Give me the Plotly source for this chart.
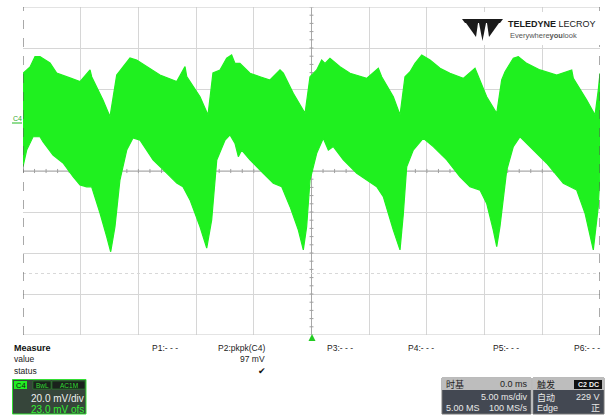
import plotly.graph_objects as go

W, H = 608, 416

# ---------------- data ----------------
# Upper envelope of the C4 trace: time (ms) / voltage (mV, relative to screen centre)
upper_t = [-25.0, -24.39, -23.96, -23.53, -22.66, -22.08, -20.93, -20.06, -19.19, -19.05,
           -18.07, -17.46, -16.88, -16.33, -15.73, -15.15, -14.28, -13.13, -11.68, -10.96,
           -10.81, -9.66, -8.97, -8.54, -7.93, -7.35, -6.92, -6.63, -6.20, -5.33,
           -4.46, -3.60, -2.73, -2.44, -1.58, -0.56, -0.13, 0.45, 0.88, 1.17,
           1.60, 2.47, 3.34, 4.78, 5.79, 6.08, 7.09, 7.67, 8.10, 8.54,
           8.97, 9.55, 10.27, 11.14, 12.00, 13.15, 14.17, 14.45, 15.18, 16.05,
           16.48, 16.77, 17.49, 17.92, 18.65, 19.80, 21.25, 22.55, 22.69, 23.85,
           24.57, 24.85, 25.0]
upper_v = [47.7, 50.7, 55.8, 55.8, 52.7, 47.8, 45.4, 43.6, 49.3, 46.0,
           34.6, 26.5, 46.8, 50.9, 55.1, 54.1, 50.9, 46.8, 43.6, 50.9,
           46.0, 36.2, 27.3, 47.8, 49.3, 55.0, 56.6, 52.5, 52.5, 47.7,
           46.0, 44.4, 49.3, 47.7, 37.9, 28.1, 46.0, 49.3, 54.1, 52.5,
           55.0, 50.9, 47.7, 45.2, 50.1, 46.0, 36.2, 27.3, 46.0, 48.4,
           52.5, 56.6, 54.1, 50.1, 47.7, 45.2, 50.1, 46.0, 36.2, 28.1,
           44.4, 48.4, 55.0, 55.8, 52.5, 49.3, 46.8, 49.3, 45.2, 34.6,
           27.3, 39.5, 47.7]

# Lower envelope of the C4 trace
lower_t = [-25.0, -24.68, -24.13, -23.53, -23.27, -22.40, -21.53, -20.66, -20.06, -19.48,
           -19.05, -18.33, -17.75, -17.40, -17.03, -16.60, -16.01, -15.47, -14.86, -13.73,
           -12.55, -11.68, -11.14, -10.53, -9.66, -9.08, -8.65, -8.21, -7.49, -7.06,
           -6.63, -6.34, -6.05, -5.33, -4.18, -3.31, -2.58, -1.86, -1.14, -0.71,
           -0.42, -0.13, 0.45, 1.02, 1.46, 1.89, 2.76, 3.92, 4.78, 5.65,
           6.22, 7.09, 7.67, 7.95, 8.25, 8.82, 9.69, 10.55, 11.72, 12.87,
           13.73, 14.60, 15.18, 15.75, 16.05, 16.33, 16.92, 17.49, 18.07, 19.22,
           20.38, 21.82, 22.98, 23.70, 24.42, 24.85, 25.0]
lower_v = [2.1, 10.2, 16.7, 16.7, 14.3, 7.8, 3.9, -2.8, -6.8, -7.7,
           -7.7, -20.5, -32.0, -39.4, -27.2, -4.4, 10.2, 16.1, 15.1, 5.4,
           -1.0, -5.9, -7.7, -14.1, -27.2, -37.6, -23.9, 5.4, 15.1, 17.6,
           13.5, 7.0, 10.2, 5.4, -1.1, -6.0, -7.7, -17.4, -28.8, -38.5,
           -27.2, -4.4, 8.6, 16.0, 10.2, 11.9, 5.4, -1.1, -4.4, -7.7,
           -12.5, -28.8, -38.5, -21.5, 2.1, 10.2, 16.0, 11.9, 5.4, -2.8,
           -7.7, -9.3, -15.8, -28.8, -36.9, -27.2, 0.5, 11.9, 16.7, 10.2,
           3.8, -6.0, -9.3, -20.6, -38.5, -17.4, -1.1]

# Scope settings
time_per_div = 5.0     # ms/div
volt_per_div = 20.0    # mV/div
n_hdiv = 10
n_vdiv = 8

measure_names = ["P1:- - -", "P2:pkpk(C4)", "P3:- - -", "P4:- - -", "P5:- - -", "P6:- - -"]
measure_value = "97 mV"
ch_scale = "20.0 mV/div"
ch_offset = "23.0 mV ofs"
tb_labels = ["时基", "0.0 ms", "5.00 ms/div", "5.00 MS", "100 MS/s"]
trig_labels = ["触发", "C2 DC", "自动", "229 V", "Edge", "正"]

# ---------------- layout geometry (pixels) ----------------
PL, PR, PT, PB = 23, 600, 7, 335
xr = n_hdiv * time_per_div / 2
yr = n_vdiv * volt_per_div / 2


def xp(p):
    return p / W


def yp(p):
    return 1 - p / H


GREEN = "#1ff01f"
FONT = "Liberation Sans, Arial, Noto Sans CJK SC"

fig = go.Figure()
fig.add_trace(go.Scatter(
    x=upper_t + lower_t[::-1], y=upper_v + lower_v[::-1],
    mode="lines", fill="toself", fillcolor=GREEN,
    line=dict(color=GREEN, width=1.2), hoverinfo="skip", showlegend=False))

shapes = []
# centre cross lines
shapes.append(dict(type="line", xref="x", yref="y", x0=-xr, x1=xr, y0=0, y1=0,
                   line=dict(color="#a8a8a8", width=1), layer="between"))
shapes.append(dict(type="line", xref="x", yref="y", x0=0, x1=0, y0=-yr, y1=yr,
                   line=dict(color="#a8a8a8", width=1), layer="between"))
# minor ticks on centre lines
k = -xr
while k <= xr + 1e-9:
    shapes.append(dict(type="line", xref="x", yref="y", x0=k, x1=k, y0=-1.0, y1=1.0,
                       line=dict(color="#a0a0a0", width=1), layer="between"))
    k += time_per_div / 5
k = -yr
while k <= yr + 1e-9:
    shapes.append(dict(type="line", xref="x", yref="y", x0=-0.17, x1=0.17, y0=k, y1=k,
                       line=dict(color="#a0a0a0", width=1), layer="between"))
    k += volt_per_div / 5
# dotted level line
shapes.append(dict(type="line", xref="x", yref="y", x0=-xr, x1=xr, y0=-50, y1=-50,
                   line=dict(color="#d8d8d8", width=1, dash="dot"), layer="between"))
# borders
shapes.append(dict(type="line", xref="x", yref="y", x0=-xr, x1=xr, y0=yr, y1=yr,
                   line=dict(color="#c8c8c8", width=1)))
shapes.append(dict(type="line", xref="x", yref="y", x0=-xr, x1=xr, y0=-yr, y1=-yr,
                   line=dict(color="#c8c8c8", width=1)))
for xx in (-xr, xr):
    shapes.append(dict(type="line", xref="x", yref="y", x0=xx, x1=xx, y0=-yr, y1=yr,
                       line=dict(color="#555555", width=1, dash="dash")))

# logo area
shapes.append(dict(type="rect", xref="paper", yref="paper", x0=xp(455), x1=xp(600),
                   y0=yp(45), y1=yp(12), fillcolor="white", line=dict(width=0)))


def path(pts):
    s = "M " + " L ".join(f"{xp(a):.5f},{yp(b):.5f}" for a, b in pts) + " Z"
    return dict(type="path", xref="paper", yref="paper", path=s,
                fillcolor="#1a1a1a", line=dict(width=0))


shapes.append(path([(462, 19), (503, 19), (500, 23), (465, 23)]))
shapes.append(path([(466, 23), (478, 23), (476, 37)]))
shapes.append(path([(479, 23), (486, 23), (482.5, 41)]))
shapes.append(path([(487, 23), (499, 23), (489, 37)]))

# trigger position marker
shapes.append(dict(type="path", xref="paper", yref="paper",
                   path=f"M {xp(308.5)},{yp(341)} L {xp(315.5)},{yp(341)} L {xp(312)},{yp(334)} Z",
                   fillcolor="#22cc22", line=dict(width=0)))
# C4 ground marker underline
shapes.append(dict(type="line", xref="paper", yref="paper", x0=xp(12), x1=xp(22),
                   y0=yp(123), y1=yp(123), line=dict(color="#22bb22", width=1)))

# channel box
shapes.append(dict(type="rect", xref="paper", yref="paper", x0=xp(12.5), x1=xp(86),
                   y0=yp(414), y1=yp(379.5), fillcolor="#36453a",
                   line=dict(color="#33dd33", width=1)))
shapes.append(dict(type="rect", xref="paper", yref="paper", x0=xp(14), x1=xp(27),
                   y0=yp(389), y1=yp(381), fillcolor="#22ee22", line=dict(width=0)))
shapes.append(dict(type="rect", xref="paper", yref="paper", x0=xp(33), x1=xp(51),
                   y0=yp(389), y1=yp(381), fillcolor="#1a221c",
                   line=dict(color="#2a9a2a", width=0.5)))
shapes.append(dict(type="rect", xref="paper", yref="paper", x0=xp(52), x1=xp(85),
                   y0=yp(389), y1=yp(381), fillcolor="#1a221c",
                   line=dict(color="#2a9a2a", width=0.5)))

# timebase and trigger boxes
for x0, x1 in ((442, 531), (533, 604)):
    shapes.append(dict(type="rect", xref="paper", yref="paper", x0=xp(x0), x1=xp(x1),
                       y0=yp(414), y1=yp(378), fillcolor="#434852",
                       line=dict(color="#777777", width=1)))
    shapes.append(dict(type="rect", xref="paper", yref="paper", x0=xp(x0), x1=xp(x1),
                       y0=yp(390), y1=yp(378), fillcolor="#bdbdbd",
                       line=dict(width=0)))
shapes.append(dict(type="rect", xref="paper", yref="paper", x0=xp(574), x1=xp(602),
                   y0=yp(389), y1=yp(380), fillcolor="#111111", line=dict(width=0)))

ann = []


def txt(s, x, y, size=9, color="#222222", anchor="left", bold=False, family=FONT):
    if bold:
        s = f"<b>{s}</b>"
    ann.append(dict(text=s, x=xp(x), y=yp(y), xref="paper", yref="paper",
                    xanchor=anchor, yanchor="middle", showarrow=False,
                    font=dict(size=size, color=color, family=family)))


# logo text
txt("<b>TELEDYNE</b> LECROY", 598, 24, size=9, color="#1a1a1a", anchor="right")
txt("Everywhere<b>you</b>look", 508, 35, size=7.5, color="#555555")
# C4 ground label
txt("C4", 11, 118, size=7, color="#33aa33")

# measure table
txt("Measure", 12, 348, size=9, bold=True, color="#111111")
txt("value", 12, 359, size=8.5)
txt("status", 12, 371, size=8.5)
mx = [(150, "left"), (267, "right"), (325, "left"), (406, "left"), (491, "left"), (572, "left")]
for name, (x, a) in zip(measure_names, mx):
    txt(name, x, 348, size=8.5, anchor=a)
txt(measure_value, 267, 359, size=8.5, anchor="right")
txt("✔", 262, 371, size=9, anchor="center", color="#111111")

# channel box text
txt("C4", 20.5, 385, size=7.5, color="#111111", anchor="center")
txt("BwL", 42, 385, size=6.5, color="#33dd33", anchor="center")
txt("AC1M", 68.5, 385, size=6.5, color="#33dd33", anchor="center")
txt(ch_scale, 86, 398, size=10, color="#f0f0f0", anchor="right")
txt(ch_offset, 86, 409, size=10, color="#33ee33", anchor="right")

# timebase box
txt(tb_labels[0], 444, 384, size=9, color="#222222")
txt(tb_labels[1], 530, 384, size=9, color="#222222", anchor="right")
txt(tb_labels[2], 530, 397, size=9, color="#e8e8e8", anchor="right")
txt(tb_labels[3], 444, 408, size=9, color="#e8e8e8")
txt(tb_labels[4], 530, 408, size=9, color="#e8e8e8", anchor="right")
# trigger box
txt(trig_labels[0], 535, 384, size=9, color="#222222")
txt(trig_labels[1], 588, 384.5, size=7, color="#f0f0f0", anchor="center", bold=True)
txt(trig_labels[2], 535, 397, size=9, color="#e8e8e8")
txt(trig_labels[3], 602, 397, size=9, color="#e8e8e8", anchor="right")
txt(trig_labels[4], 535, 408, size=9, color="#e8e8e8")
txt(trig_labels[5], 602, 408, size=9, color="#e8e8e8", anchor="right")

fig.update_layout(
    width=W, height=H, margin=dict(l=0, r=0, t=0, b=0),
    paper_bgcolor="white", plot_bgcolor="white",
    showlegend=False, shapes=shapes, annotations=ann,
    xaxis=dict(domain=[xp(PL), xp(PR)], range=[-xr, xr], tick0=0, dtick=time_per_div,
               showgrid=True, gridcolor="#d6d6d6", gridwidth=1, zeroline=False,
               showticklabels=False, ticks="", fixedrange=True),
    yaxis=dict(domain=[yp(PB), yp(PT)], range=[-yr, yr], tick0=0, dtick=volt_per_div,
               showgrid=True, gridcolor="#d6d6d6", gridwidth=1, zeroline=False,
               showticklabels=False, ticks="", fixedrange=True),
)

fig.write_html("out.html")
